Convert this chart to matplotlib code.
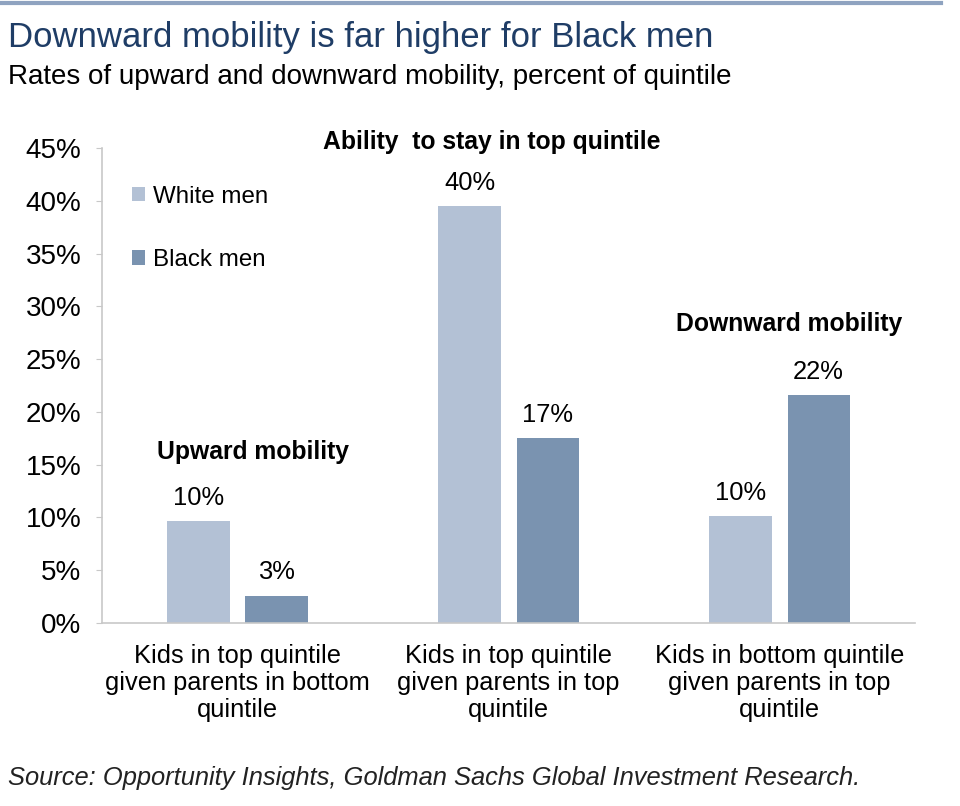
import matplotlib.pyplot as plt
import numpy as np

plt.rcParams['font.family'] = ['Liberation Sans', 'DejaVu Sans']

# Data
categories = ["Kids in top quintile\ngiven parents in bottom\nquintile",
              "Kids in top quintile\ngiven parents in top\nquintile",
              "Kids in bottom quintile\ngiven parents in top\nquintile"]
white_men = [9.7, 39.5, 10.1]
black_men = [2.6, 17.5, 21.6]
white_labels = ["10%", "40%", "10%"]
black_labels = ["3%", "17%", "22%"]
group_titles = ["Upward mobility", "Ability  to stay in top quintile", "Downward mobility"]
title_y = [16.2, 45.6, 28.3]
title_x = [0.057, -0.063, 0.037]

light_col = "#B3C1D5"
dark_col = "#7A93B0"
axis_col = "#C8C8C8"

fig = plt.figure(figsize=(9.6, 8.06), dpi=100)
ax = fig.add_axes([0.10625, 0.2270, 0.8469, 0.5894])

x = np.arange(len(categories))
width = 0.229
offset = 0.144

ax.bar(x - offset, white_men, width, color=light_col, label="White men")
ax.bar(x + offset, black_men, width, color=dark_col, label="Black men")

# value labels
for i in range(len(x)):
    ax.annotate(white_labels[i], (x[i] - offset, white_men[i]), xytext=(0, 8),
                textcoords="offset points", ha="center", va="bottom", fontsize=18.4)
    ax.annotate(black_labels[i], (x[i] + offset, black_men[i]), xytext=(0, 8),
                textcoords="offset points", ha="center", va="bottom", fontsize=18.4)

# group headings
for i in range(len(x)):
    ax.text(x[i] + title_x[i], title_y[i], group_titles[i], ha="center", va="center",
            fontsize=17.8, fontweight="bold", clip_on=False)

ax.set_xlim(-0.5, 2.5)
ax.set_ylim(0, 45)
ax.set_yticks(np.arange(0, 46, 5))
ax.set_yticklabels([f"{v}%" for v in range(0, 46, 5)], fontsize=20)
ax.set_xticks(x)
ax.set_xticklabels(categories, fontsize=18.3, linespacing=1.16)
ax.tick_params(axis="x", length=0, pad=15)
ax.tick_params(axis="y", length=4, color=axis_col, pad=11, direction="out")

for s in ["top", "right"]:
    ax.spines[s].set_visible(False)
for s in ["left", "bottom"]:
    ax.spines[s].set_color(axis_col)
    ax.spines[s].set_linewidth(1.2)

ax.legend(loc="upper left", bbox_to_anchor=(0.037, 0.921), frameon=False, fontsize=17.4,
          borderpad=0, borderaxespad=0, handlelength=0.55, handleheight=0.55,
          handletextpad=0.3, labelspacing=1.72)

# header
fig.add_artist(plt.Line2D([0, 0.98], [0.996, 0.996], color="#8FA3C0", linewidth=3))
fig.text(0.008, 0.953, "Downward mobility is far higher for Black men", fontsize=25,
         color="#1F3D66", va="center", ha="left")
fig.text(0.008, 0.905, "Rates of upward and downward mobility, percent of quintile",
         fontsize=20, va="center", ha="left")
fig.text(0.008, 0.035, "Source: Opportunity Insights, Goldman Sachs Global Investment Research.",
         fontsize=18.4, style="italic", color="#222222", va="center", ha="left")

fig.savefig("out.png", dpi=100)
